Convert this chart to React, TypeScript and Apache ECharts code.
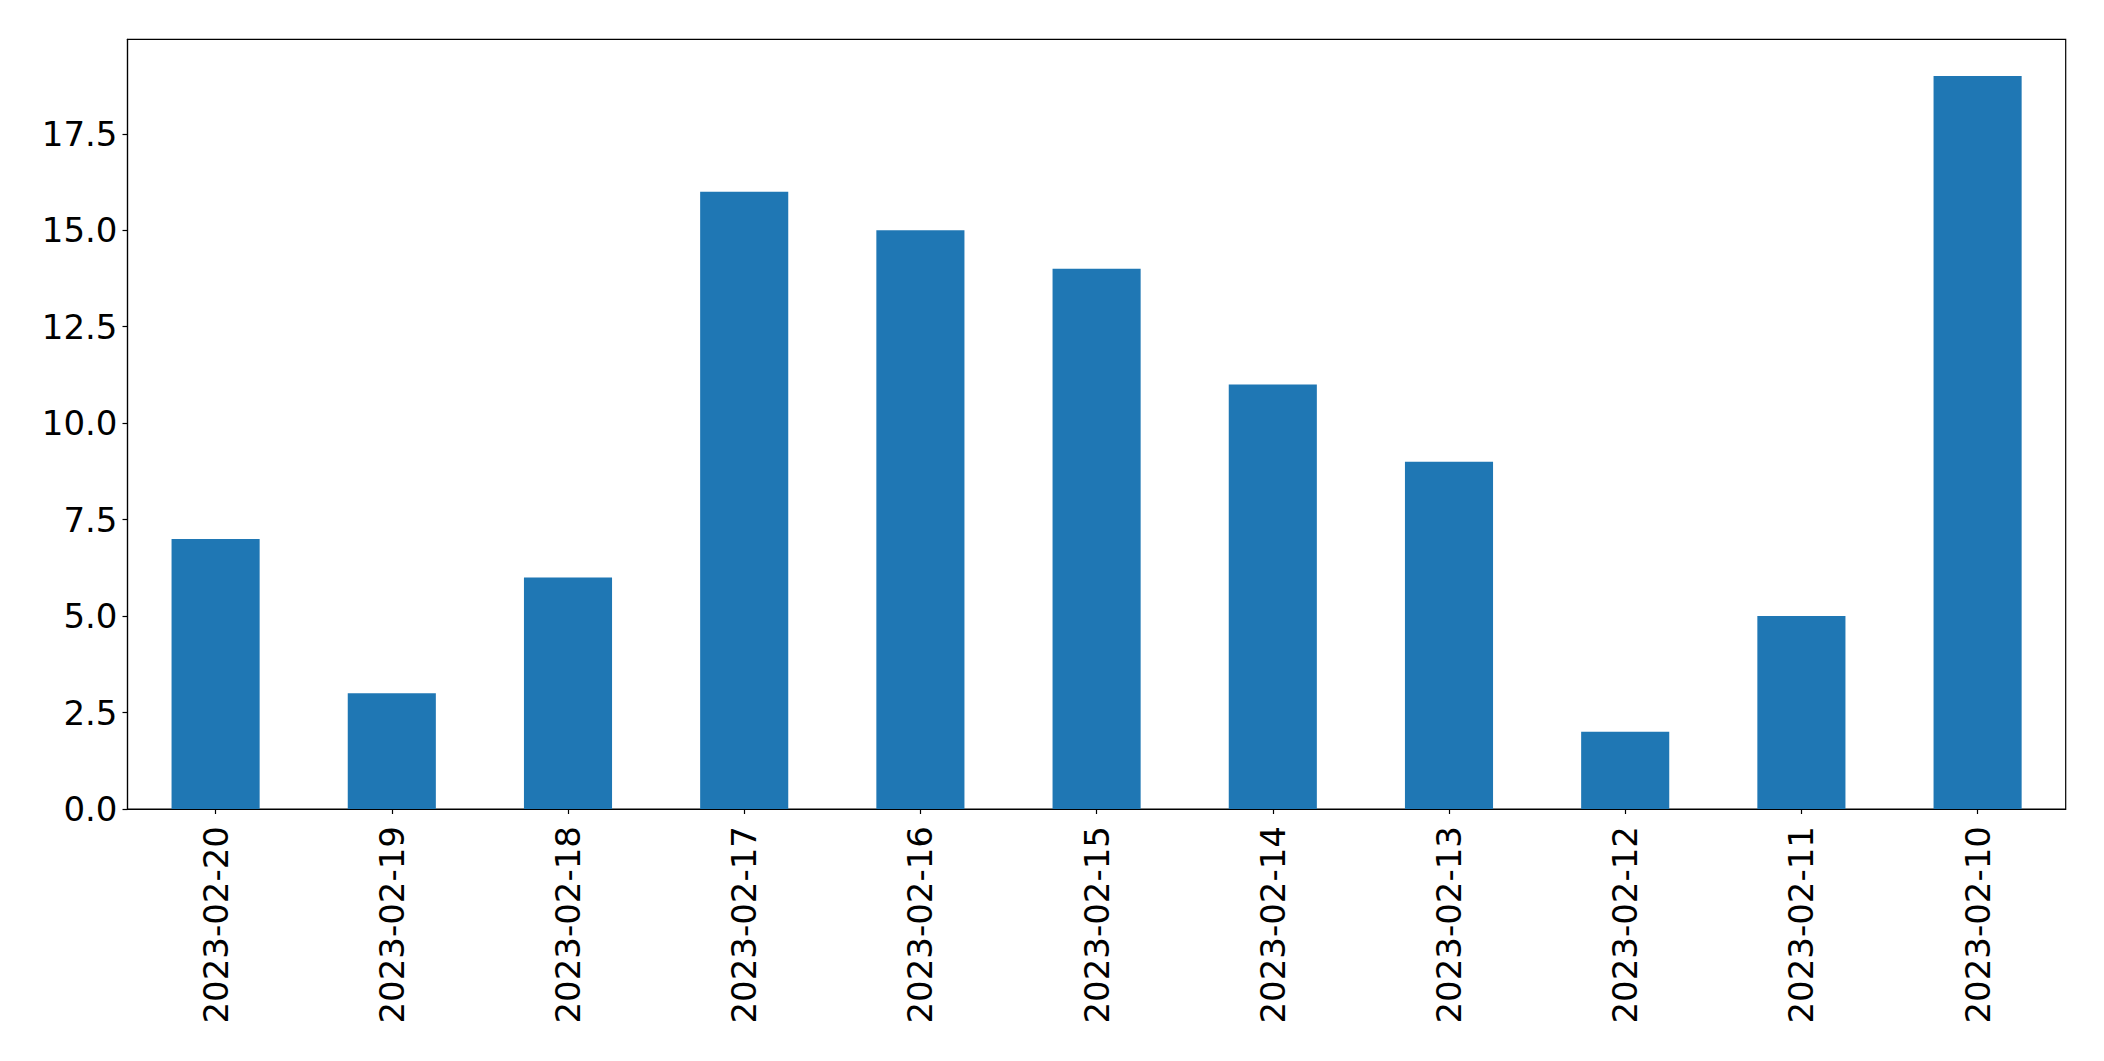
import React, { useEffect, useRef } from "react";
import * as echarts from "echarts";

const categories = [
  "2023-02-20", "2023-02-19", "2023-02-18", "2023-02-17", "2023-02-16", "2023-02-15",
  "2023-02-14", "2023-02-13", "2023-02-12", "2023-02-11", "2023-02-10",
];
const values = [7, 3, 6, 16, 15, 14, 11, 9, 2, 5, 19];
const yTicks = [0, 2.5, 5, 7.5, 10, 12.5, 15, 17.5];

export default function App() {
  const ref = useRef<HTMLDivElement>(null);
  useEffect(() => {
    document.body.style.margin = "0";
    const chart = echarts.init(ref.current!, undefined, { renderer: "svg" });
    const font = "DejaVu Sans";
    chart.setOption({
      animation: false,
      backgroundColor: "#ffffff",
      grid: {
        left: 127.5, top: 39.3, right: 38.3, bottom: 252,
        show: true, borderColor: "#000000", borderWidth: 1.2, containLabel: false,
      },
      xAxis: {
        type: "category",
        data: categories,
        boundaryGap: true,
        axisLine: { show: true, lineStyle: { color: "#000000", width: 1.2 } },
        axisTick: { show: true, alignWithLabel: true, length: 5, lineStyle: { color: "#000000", width: 1.2 } },
        axisLabel: { rotate: 90, margin: 17, fontSize: 34, color: "#000000", fontFamily: font, interval: 0 },
        splitLine: { show: false },
      },
      yAxis: {
        type: "value",
        min: 0,
        max: 19.95,
        interval: 2.5,
        axisLine: { show: true, lineStyle: { color: "#000000", width: 1.2 } },
        axisTick: { show: true, length: 5, customValues: yTicks, lineStyle: { color: "#000000", width: 1.2 } },
        axisLabel: {
          margin: 10, fontSize: 34, color: "#000000", fontFamily: font,
          customValues: yTicks,
          formatter: (v: number) => v.toFixed(1),
        },
        splitLine: { show: false },
      },
      series: [
        {
          type: "bar",
          data: values,
          barWidth: "50%",
          itemStyle: { color: "#1f77b4" },
        },
      ],
    });
    return () => chart.dispose();
  }, []);
  return <div ref={ref} style={{ width: 2104, height: 1061 }} />;
}
